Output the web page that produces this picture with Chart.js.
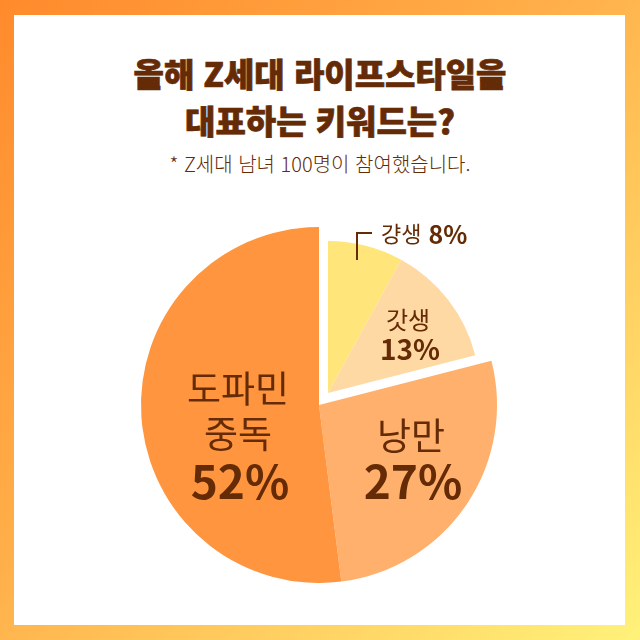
<!DOCTYPE html>
<html lang="ko">
<head>
<meta charset="utf-8">
<script src="https://cdn.jsdelivr.net/npm/chart.js@4/dist/chart.umd.min.js"></script>
<style>
  html, body { margin: 0; padding: 0; }
  body { width: 640px; height: 640px; overflow: hidden; }
  #frame {
    position: relative;
    width: 640px;
    height: 640px;
    background: linear-gradient(135deg, #ff8a2c 0%, #ffb04a 45%, #fff27a 100%);
    font-family: "Noto Sans CJK KR", "Noto Sans", sans-serif;
    color: #652b06;
  }
  #panel {
    position: absolute;
    left: 14px;
    top: 15px;
    width: 611px;
    height: 610px;
    background: #ffffff;
  }
  #title {
    position: absolute;
    left: 0;
    top: 50px;
    width: 640px;
    text-align: center;
    font-size: 33px;
    font-weight: 900;
    line-height: 47px;
    letter-spacing: 0px;
    -webkit-text-stroke: 0.7px #652b06;
  }
  #subtitle {
    position: absolute;
    left: 0;
    top: 149px;
    width: 640px;
    text-align: center;
    font-size: 20px;
    font-weight: 300;
    letter-spacing: 0px;
  }
  #myChart { position: absolute; left: 0; top: 0; }
</style>
</head>
<body>
<div id="frame">
  <div id="panel"></div>
  <div id="title">올해 Z세대 라이프스타일을<br>대표하는 키워드는?</div>
  <div id="subtitle">* Z세대 남녀 100명이 참여했습니다.</div>
  <canvas id="myChart" width="640" height="640"></canvas>
</div>
<script>
// DATA
const categories = ["걍생", "갓생", "낭만", "도파민 중독"];
const shares = [8, 13, 27, 52];
const sliceColors = ["#ffe57a", "#ffd9a4", "#ffb06c", "#ff963f"];

// the first two slices are pulled out together, a bit smaller
const explodedSlices = [0, 1];
const explodeShift = { x: 9, y: -12 };
const explodedRadius = 152;

const textColor = "#652b06";
const fontName = '"Noto Sans CJK KR", "Noto Sans", sans-serif';

// label placement per slice
const labelStyles = [
  { outside: true, x: 381, y: 234, nameSize: 22, valueSize: 25 },
  { x: 408, nameY: 320, valueY: 349, nameSize: 24, valueSize: 28 },
  { x: 411, nameY: 436, valueY: 482, nameSize: 37, valueSize: 46 },
  { x: 238, nameY: 389, valueY: 482, nameSize: 37, valueSize: 46, lineGap: 45 },
];

const explodePlugin = {
  id: "explode",
  afterDatasetsUpdate(chart) {
    const meta = chart.getDatasetMeta(0);
    explodedSlices.forEach((i) => {
      const arc = meta.data[i];
      arc.x += explodeShift.x;
      arc.y += explodeShift.y;
      arc.outerRadius = explodedRadius;
    });
  },
};

const labelPlugin = {
  id: "sliceLabels",
  afterDraw(chart) {
    const ctx = chart.ctx;
    ctx.save();
    ctx.fillStyle = textColor;
    ctx.textBaseline = "middle";

    categories.forEach((name, i) => {
      const s = labelStyles[i];
      const value = shares[i] + "%";

      if (s.outside) {
        // leader line
        ctx.strokeStyle = textColor;
        ctx.lineWidth = 2;
        ctx.beginPath();
        ctx.moveTo(357, 260);
        ctx.lineTo(357, 233);
        ctx.lineTo(372, 233);
        ctx.stroke();

        ctx.textAlign = "left";
        ctx.font = "400 " + s.nameSize + "px " + fontName;
        ctx.fillText(name, s.x, s.y);
        const w = ctx.measureText(name + " ").width;
        ctx.font = "700 " + s.valueSize + "px " + fontName;
        ctx.fillText(value, s.x + w + 2, s.y);
        return;
      }

      ctx.textAlign = "center";
      ctx.font = "400 " + s.nameSize + "px " + fontName;
      const lines = name.split(" ");
      lines.forEach((line, k) => {
        ctx.fillText(line, s.x, s.nameY + k * (s.lineGap || 0));
      });
      ctx.font = "700 " + s.valueSize + "px " + fontName;
      ctx.fillText(value, s.x + 2, s.valueY);
    });
    ctx.restore();
  },
};

window.onload = () => {
  const ctx = document.getElementById("myChart").getContext("2d");
  new Chart(ctx, {
    type: "pie",
    data: {
      labels: categories,
      datasets: [
        {
          data: shares,
          backgroundColor: sliceColors,
          borderWidth: 0,
        },
      ],
    },
    options: {
      responsive: false,
      animation: false,
      events: [],
      layout: { padding: { left: 141, right: 143, top: 227, bottom: 57 } },
      plugins: {
        legend: { display: false },
        tooltip: { enabled: false },
      },
    },
    plugins: [explodePlugin, labelPlugin],
  });
};
</script>
</body>
</html>
